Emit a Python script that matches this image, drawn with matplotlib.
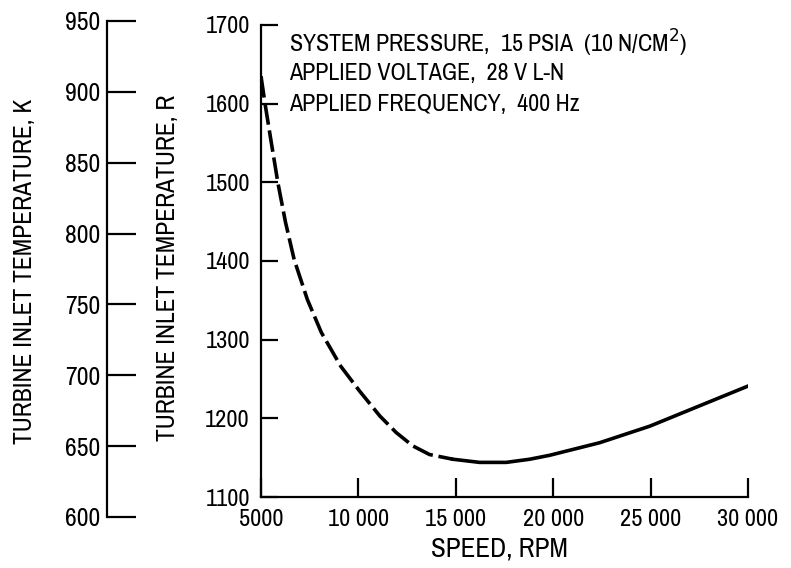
import matplotlib
matplotlib.use("Agg")
import matplotlib.pyplot as plt

plt.rcParams['font.family'] = ['Archivo Narrow', 'DejaVu Sans']

# Data
speed_dashed = [5000, 5200, 5480, 5870, 6260, 6700, 7380, 8100, 9100, 10050, 11100, 11937, 12790, 13650, 14850]
temp_dashed = [1635, 1601, 1558, 1499, 1449, 1402, 1351, 1309, 1266, 1235, 1203, 1182, 1165, 1154, 1148]
speed_solid = [14850, 16220, 17590, 18790, 19815, 22385, 24955, 27524, 30000]
temp_solid = [1148, 1144, 1144, 1148, 1153, 1169, 1190, 1216, 1241]

x_ticks = [5000, 10000, 15000, 20000, 25000, 30000]
x_tick_labels = ["5000", "10 000", "15 000", "20 000", "25 000", "30 000"]
r_ticks = [1100, 1200, 1300, 1400, 1500, 1600, 1700]
k_ticks = [600, 650, 700, 750, 800, 850, 900, 950]

notes = ["SYSTEM PRESSURE,  15 PSIA  (10 N/CM$^2$)",
         "APPLIED VOLTAGE,  28 V L-N",
         "APPLIED FREQUENCY,  400 Hz"]

W, H = 791, 568
fig = plt.figure(figsize=(W / 100, H / 100), dpi=100)

# Main axes (Rankine)
l, r, t, b = 261, 748, 25, 497
ax = fig.add_axes([l / W, 1 - b / H, (r - l) / W, (b - t) / H])
ax.plot(speed_dashed, temp_dashed, color='black', lw=2.6, dashes=(6, 1.6),
        solid_joinstyle='round', dash_joinstyle='round')
ax.plot(speed_solid, temp_solid, color='black', lw=2.6, solid_joinstyle='round')
ax.set_xlim(5000, 30000)
ax.set_ylim(1100, 1700)
ax.set_xticks(x_ticks)
ax.set_xticklabels(x_tick_labels)
ax.set_yticks(r_ticks)
for s in ['top', 'right']:
    ax.spines[s].set_visible(False)
for s in ['left', 'bottom']:
    ax.spines[s].set_linewidth(1.6)
ax.tick_params(axis='y', direction='in', length=12, width=1.6, labelsize=17.5, pad=8)
ax.tick_params(axis='x', direction='in', length=14, width=1.6, labelsize=17.5, pad=9)
ax.set_xlabel("SPEED, RPM", fontsize=19.5)
ax.xaxis.label.set_va('center')
ax.xaxis.set_label_coords((499 - l) / (r - l), -(549.5 - b) / (b - t))
ax.set_ylabel("TURBINE INLET TEMPERATURE, R", fontsize=18.4)
ax.yaxis.label.set_va('center')
ax.yaxis.set_label_coords((167 - l) / (r - l), (b - 268) / (b - t))

for i, s in enumerate(notes):
    fig.text(289 / W, 1 - (43 + 31 * i) / H, s, fontsize=17.3, va='center', ha='left')

# Kelvin axis
kl, kt, kb = 107, 21, 517
axk = fig.add_axes([kl / W, 1 - kb / H, 0.001, (kb - kt) / H])
axk.set_ylim(600, 950)
axk.set_yticks(k_ticks)
axk.set_xticks([])
for s in ['top', 'right', 'bottom']:
    axk.spines[s].set_visible(False)
axk.spines['left'].set_linewidth(1.6)
axk.patch.set_visible(False)
axk.tick_params(axis='y', direction='in', length=21, width=1.6, labelsize=18.5, pad=5)
axk.set_ylabel("TURBINE INLET TEMPERATURE, K", fontsize=18.4)
axk.yaxis.label.set_va('center')
axk.yaxis.set_label_coords(25 / W, 1 - 271 / H, transform=fig.transFigure)

fig.savefig("out.png", dpi=100)
